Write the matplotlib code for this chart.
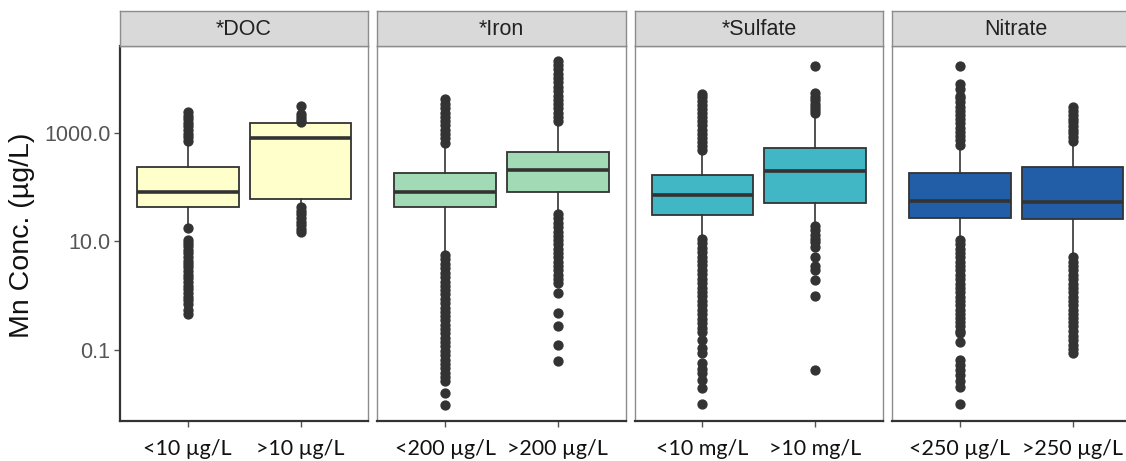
import numpy as np
import matplotlib
matplotlib.use('Agg')
import matplotlib.pyplot as plt

panels = ['*DOC', '*Iron', '*Sulfate', 'Nitrate']
groups = [['<10 µg/L', '>10 µg/L'],
          ['<200 µg/L', '>200 µg/L'],
          ['<10 mg/L', '>10 mg/L'],
          ['<250 µg/L', '>250 µg/L']]
colors = ['#FFFFCC', '#A1DAB4', '#41B6C4', '#225EA8']

# box stats per panel: (whislo, q1, med, q3, whishi), values in µg/L
doc_stats = [(18, 42, 82, 229, 650), (44, 59, 780, 1480, 1500)]
iron_stats = [(5.7, 43, 81, 182, 608), (33, 81, 204, 446, 1530)]
sulfate_stats = [(11.5, 30, 70, 165, 458), (20, 50, 195, 513, 2180)]
nitrate_stats = [(10.7, 27, 56, 177, 566), (5.3, 26, 53, 232, 653)]

# outliers (µg/L)
doc_fliers = [
    [700, 820, 950, 1100, 1300, 1500, 1750, 2050, 2370,
     17.5, 10.7, 9.3, 8.0, 6.9, 6.0, 5.2, 4.4, 3.8, 3.3, 2.8, 2.4, 2.1,
     1.8, 1.5, 1.3, 1.1, 0.95, 0.84, 0.7, 0.55, 0.45],
    [1530, 1700, 1900, 2170, 3100,
     42, 36, 31, 27, 23, 20, 17, 14.5],
]
iron_fliers = [
    [650, 780, 940, 1120, 1350, 1600, 1950, 2300, 2800, 3400, 4100,
     5.5, 4.6, 3.8, 3.2, 2.6, 2.2, 1.8, 1.5, 1.25, 1.05, 0.87, 0.72, 0.6,
     0.5, 0.42, 0.35, 0.29, 0.24, 0.2, 0.165, 0.14, 0.115, 0.095, 0.08,
     0.066, 0.055, 0.046, 0.038, 0.032, 0.027, 0.016, 0.0098],
    [1600, 1900, 2300, 2800, 3300, 4000, 4800, 5800, 7000, 8400, 10000,
     12000, 14500, 17500, 21000,
     32, 27, 22, 18, 15, 12.5, 10.5, 8.8, 7.3, 6.1, 5.1, 4.2, 3.5, 2.9,
     2.4, 2.0, 1.7, 1.1, 0.48, 0.28, 0.124, 0.061],
]
sulfate_fliers = [
    [480, 570, 680, 800, 950, 1130, 1350, 1600, 1900, 2250, 2700, 3200,
     3800, 4500, 5100,
     11, 9.2, 7.6, 6.3, 5.2, 4.3, 3.6, 3.0, 2.5, 2.05, 1.7, 1.4, 1.17,
     0.97, 0.8, 0.66, 0.55, 0.45, 0.37, 0.31, 0.255, 0.21, 0.15, 0.11,
     0.087, 0.056, 0.045, 0.037, 0.028, 0.0196, 0.01],
    [2300, 2600, 3000, 3400, 3900, 4500, 5300, 16500,
     19, 16, 13, 11, 9.5, 7.7, 5.2, 3.5, 3.0, 1.95, 0.99, 0.042],
]
nitrate_fliers = [
    [600, 720, 860, 1030, 1230, 1470, 1750, 2100, 2500, 3000, 3600, 4300,
     4800, 6300, 7800, 17000,
     10.5, 8.8, 7.3, 6.1, 5.1, 4.2, 3.5, 2.9, 2.4, 2.0, 1.65, 1.37, 1.14,
     0.95, 0.79, 0.66, 0.55, 0.46, 0.38, 0.32, 0.27, 0.22, 0.2, 0.14,
     0.065, 0.052, 0.042, 0.034, 0.027, 0.021, 0.01],
    [700, 820, 960, 1120, 1320, 1550, 1800, 2100, 2500, 3000,
     5.1, 4.2, 3.5, 2.9, 2.4, 2.0, 1.65, 1.37, 1.14, 0.95, 0.79, 0.66,
     0.55, 0.46, 0.38, 0.32, 0.27, 0.22, 0.18, 0.15, 0.125, 0.105, 0.088],
]

all_stats = [doc_stats, iron_stats, sulfate_stats, nitrate_stats]
all_fliers = [doc_fliers, iron_fliers, sulfate_fliers, nitrate_fliers]

W, H = 1126, 461
fig = plt.figure(figsize=(W / 100, H / 100), dpi=100)

lefts = [120, 377.3, 634.7, 892]
pw = 248.3
ybot, ytop = 421, 46
strip_top = 11
dark = '#333333'
grey = '#8c8c8c'

for i in range(4):
    ax = fig.add_axes([lefts[i] / W, (H - ybot) / H, pw / W, (ybot - ytop) / H])
    stats = []
    for (lo, q1, med, q3, hi), fl in zip(all_stats[i], all_fliers[i]):
        stats.append(dict(whislo=lo, q1=q1, med=med, q3=q3, whishi=hi, fliers=fl))
    ax.bxp(stats, positions=[1, 2], widths=0.9, patch_artist=True, showcaps=False,
           boxprops=dict(facecolor=colors[i], edgecolor=dark, linewidth=1.3),
           medianprops=dict(color=dark, linewidth=2.6),
           whiskerprops=dict(color=dark, linewidth=1.2),
           flierprops=dict(marker='o', markerfacecolor=dark, markeredgecolor=dark,
                           markersize=6.4, linestyle='none'))
    ax.set_yscale('log')
    ax.set_ylim(10 ** -2.311, 10 ** 4.593)
    ax.set_xlim(0.4, 2.6)
    ax.set_xticks([1, 2])
    ax.set_xticklabels(groups[i], fontsize=15.5, family=['Lato', 'DejaVu Sans'], color='#111111')
    ax.tick_params(axis='x', length=4, width=1, color='#555555', pad=9)
    ax.minorticks_off()
    if i == 0:
        ax.set_yticks([0.1, 10, 1000])
        ax.set_yticklabels(['0.1', '10.0', '1000.0'], fontsize=15.5,
                           family='Liberation Sans', color='#555555')
        ax.tick_params(axis='y', length=4, width=1, color='#555555', pad=3)
        ax.spines['left'].set_color(dark)
        ax.spines['left'].set_linewidth(1.6)
    else:
        ax.set_yticks([])
        ax.spines['left'].set_color(grey)
        ax.spines['left'].set_linewidth(1.0)
    ax.spines['bottom'].set_color(dark)
    ax.spines['bottom'].set_linewidth(1.6)
    for s in ['top', 'right']:
        ax.spines[s].set_color(grey)
        ax.spines[s].set_linewidth(1.0)

    sax = fig.add_axes([lefts[i] / W, (H - ytop) / H, pw / W, (ytop - strip_top) / H])
    sax.set_facecolor('#D9D9D9')
    sax.set_xticks([])
    sax.set_yticks([])
    for s in sax.spines.values():
        s.set_color(grey)
        s.set_linewidth(1.0)
    sax.text(0.5, 0.47, panels[i], ha='center', va='center', fontsize=15.5,
             family='Liberation Sans', color='#222222', transform=sax.transAxes)

fig.text(22 / W, 1 - 235 / H, 'Mn Conc. (µg/L)', rotation=90, ha='center', va='center',
         fontsize=20.5, family='Liberation Sans', color='#111111')

fig.savefig('out.png', dpi=100)
